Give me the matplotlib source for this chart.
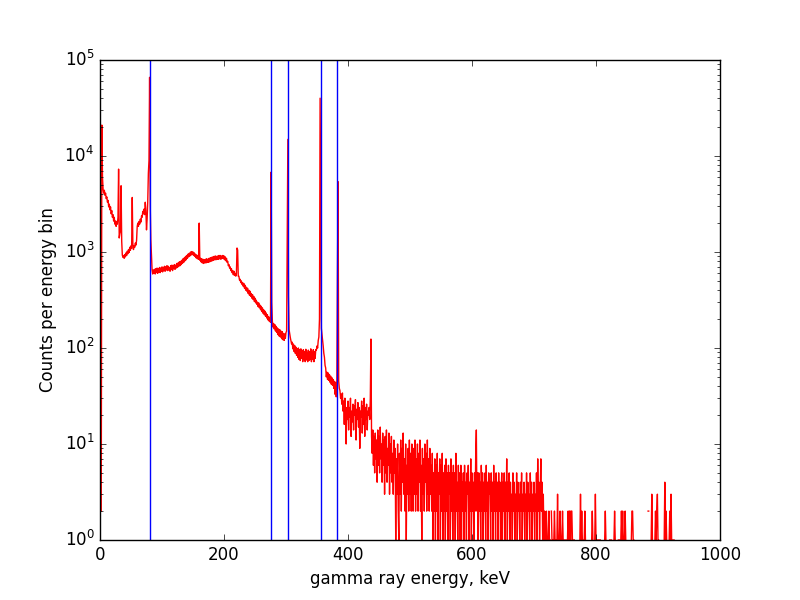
#!/usr/bin/env python3
"""Ba-133 gamma spectrum, counts per 1 keV bin on a log scale,
with the main Ba-133 line energies marked in blue."""
import numpy as np
import matplotlib
matplotlib.use("Agg")
import matplotlib.pyplot as plt

# counts per 1 keV bin (one list per 100 keV)
counts_000 = [
    0, 0, 2, 21000, 6000, 4500, 4100, 4400, 3900, 4100,
    3600, 3750, 3300, 3450, 2950, 3150, 2750, 2950, 2500, 2700,
    2300, 2450, 2100, 2300, 1950, 2100, 1850, 2080, 1950, 2300,
    7300, 1400, 1550, 1650, 4900, 1300, 930, 880, 920, 860,
    940, 890, 980, 920, 1020, 960, 1060, 990, 1120, 1040,
    1160, 1090, 3700, 1200, 1060, 1170, 1120, 1240, 1180, 1320,
    1850, 2000, 1850, 2080, 1950, 2200, 2050, 2380, 2300, 2650,
    2500, 2800, 2450, 3300, 2700, 1700, 2200, 3300, 6600, 9000,
    66000, 3000, 1330, 900, 650, 590, 650, 600, 660, 590,
    670, 610, 680, 600, 670, 620, 690, 610, 680, 630,
]
counts_100 = [
    700, 620, 690, 640, 710, 630, 700, 650, 720, 640,
    710, 650, 690, 630, 720, 660, 730, 640, 720, 670,
    740, 660, 730, 680, 760, 690, 770, 710, 790, 720,
    800, 740, 820, 760, 850, 780, 870, 810, 900, 830,
    920, 860, 950, 890, 970, 910, 1000, 930, 1010, 940,
    1000, 920, 980, 900, 950, 870, 930, 850, 910, 840,
    2000, 820, 860, 790, 850, 770, 840, 760, 830, 770,
    840, 770, 850, 780, 840, 780, 860, 790, 870, 800,
    880, 810, 890, 820, 900, 830, 910, 830, 900, 840,
    910, 840, 920, 850, 920, 840, 910, 860, 920, 850,
]
counts_200 = [
    910, 830, 890, 810, 860, 780, 800, 720, 740, 680,
    700, 640, 670, 610, 640, 580, 630, 570, 600, 560,
    590, 1100, 1050, 560, 560, 510, 520, 480, 500, 460,
    480, 440, 470, 420, 450, 400, 430, 390, 420, 370,
    400, 355, 390, 345, 370, 330, 360, 320, 345, 305,
    330, 295, 315, 285, 300, 270, 295, 262, 280, 250,
    272, 240, 262, 230, 250, 222, 242, 214, 232, 205,
    222, 196, 212, 190, 205, 185, 6800, 300, 190, 165,
    180, 158, 175, 150, 168, 145, 162, 138, 158, 133,
    155, 130, 150, 125, 148, 122, 142, 120, 140, 126,
]
counts_300 = [
    145, 150, 1500, 14900, 350, 155, 140, 128, 118, 110,
    115, 98, 110, 92, 106, 88, 102, 84, 98, 80,
    100, 76, 96, 74, 98, 78, 94, 72, 96, 76,
    92, 72, 97, 75, 90, 72, 95, 74, 92, 76,
    98, 72, 90, 76, 96, 72, 92, 78, 96, 95,
    105, 100, 120, 130, 200, 40000, 2500, 160, 140, 120,
    105, 88, 80, 66, 62, 50, 56, 47, 55, 46,
    53, 44, 51, 42, 49, 41, 47, 38, 45, 33,
    44, 31, 40, 600, 5400, 45, 38, 36, 30, 33,
    26, 34, 22, 28, 16, 30, 20, 10, 24, 18,
]
counts_400 = [
    28, 14, 24, 19, 30, 12, 22, 17, 26, 14,
    25, 20, 29, 11, 23, 18, 27, 15, 24, 9,
    22, 19, 28, 13, 25, 16, 30, 12, 24, 18,
    26, 14, 22, 20, 24, 18, 30, 124, 12, 8,
    14, 6, 12, 5, 13, 7, 11, 4, 14, 6,
    12, 5, 15, 7, 10, 4, 13, 6, 11, 3,
    12, 5, 14, 4, 9, 6, 13, 3, 10, 5,
    12, 4, 8, 3, 11, 5, 9, 1, 7, 3,
    10, 2, 1, 8, 3, 11, 2, 9, 4, 13,
    3, 7, 2, 10, 1, 6, 3, 9, 2, 11,
]
counts_500 = [
    3, 8, 2, 10, 6, 2, 9, 3, 11, 2,
    7, 3, 10, 2, 8, 4, 11, 2, 6, 1,
    9, 3, 7, 2, 10, 4, 8, 2, 11, 3,
    7, 2, 9, 3, 6, 2, 8, 1, 5, 2,
    7, 1, 6, 2, 8, 1, 5, 3, 7, 1,
    6, 2, 8, 1, 5, 2, 6, 1, 7, 2,
    5, 1, 6, 3, 5, 1, 7, 2, 5, 1,
    6, 2, 5, 1, 8, 2, 4, 1, 6, 2,
    5, 1, 6, 1, 4, 2, 5, 1, 6, 2,
    4, 1, 5, 3, 6, 1, 4, 2, 7, 1,
]
counts_600 = [
    5, 2, 4, 1, 5, 2, 8, 14, 2, 5,
    1, 5, 2, 4, 1, 6, 2, 5, 1, 4,
    2, 5, 1, 6, 2, 4, 1, 5, 3, 4,
    1, 5, 2, 4, 1, 6, 2, 4, 1, 5,
    2, 4, 1, 5, 2, 4, 1, 3, 5, 1,
    4, 2, 5, 1, 4, 2, 7, 1, 4, 2,
    5, 1, 4, 2, 3, 1, 5, 2, 4, 1,
    3, 2, 5, 1, 4, 2, 3, 1, 4, 2,
    5, 1, 3, 2, 4, 1, 3, 2, 5, 1,
    4, 2, 3, 1, 5, 2, 4, 1, 3, 2,
]
counts_700 = [
    4, 1, 3, 2, 5, 1, 7, 2, 4, 1,
    3, 7, 2, 4, 1, 3, 1, 2, 1, 1,
    2, 1, 0, 1, 2, 1, 1, 0, 2, 1,
    1, 0, 1, 2, 1, 0, 1, 1, 3, 1,
    1, 1, 2, 1, 1, 1, 2, 1, 1, 1,
    1, 1, 1, 1, 1, 2, 1, 2, 2, 1,
    2, 2, 1, 1, 1, 1, 0, 0, 0, 0,
    0, 0, 0, 0, 1, 3, 1, 2, 1, 1,
    1, 1, 2, 1, 0, 0, 0, 0, 0, 0,
    0, 0, 0, 1, 2, 1, 0, 0, 1, 3,
]
counts_800 = [
    1, 1, 1, 1, 1, 1, 1, 1, 0, 0,
    0, 0, 0, 0, 1, 2, 1, 0, 0, 0,
    0, 0, 1, 1, 1, 1, 0, 0, 0, 1,
    2, 1, 0, 0, 0, 0, 1, 1, 1, 1,
    1, 2, 1, 2, 1, 1, 1, 2, 1, 0,
    0, 0, 0, 0, 0, 0, 0, 1, 2, 2,
    1, 1, 0, 0, 0, 0, 0, 0, 0, 0,
    0, 0, 0, 0, 0, 0, 0, 0, 0, 0,
    0, 0, 0, 0, 2, 2, 0, 0, 0, 1,
    3, 1, 0, 0, 0, 1, 2, 1, 2, 3,
]
counts_900 = [
    1, 1, 0, 0, 0, 0, 0, 0, 0, 0,
    1, 4, 1, 2, 1, 0, 0, 0, 1, 2,
    1, 3, 1, 1, 1, 1, 1, 0, 0, 0,
]

# Ba-133 line energies (keV)
line_kev = [81.0, 276.4, 302.9, 356.0, 383.0]


def main():
    counts = np.concatenate([counts_000, counts_100, counts_200, counts_300,
                             counts_400, counts_500, counts_600, counts_700,
                             counts_800, counts_900]).astype(float)
    energy = np.arange(len(counts))                 # 1 keV bins

    plt.style.use("classic")
    fig, ax = plt.subplots(figsize=(8, 6))
    ax.plot(energy, counts, "r-")
    for e in line_kev:
        ax.axvline(e, color="b")
    ax.set_yscale("log", nonpositive="mask")      # empty bins -> gaps
    ax.set_xlim(0, 1000)
    ax.set_ylim(1, 1e5)
    ax.set_xlabel("gamma ray energy, keV")
    ax.set_ylabel("Counts per energy bin")
    fig.savefig("out.png", dpi=100, facecolor="white")


if __name__ == "__main__":
    main()
